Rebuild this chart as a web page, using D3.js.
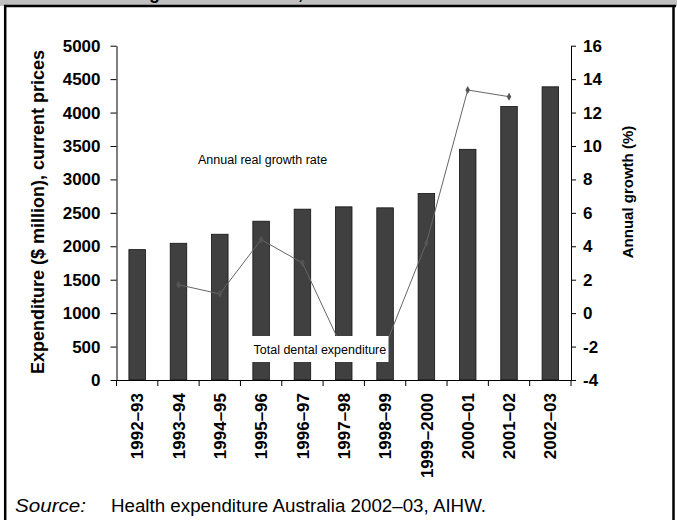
<!DOCTYPE html>
<html>
<head>
<meta charset="utf-8">
<script src="https://cdn.jsdelivr.net/npm/d3@7"></script>
<style>
  body { margin: 0; background: #fff; }
  svg { display: block; font-family: Arial, 'Liberation Sans', sans-serif; }
</style>
</head>
<body>
<div class="container"></div>
<script>
const years = ['1992–93', '1993–94', '1994–95', '1995–96', '1996–97', '1997–98',
  '1998–99', '1999–2000', '2000–01', '2001–02', '2002–03'];
const expenditure = [1950, 2045, 2180, 2375, 2555, 2590, 2575, 2790, 3450, 4090, 4385];
const growth = [null, 1.7, 1.15, 4.4, 3.0, -2.3, -2.0, 4.2, 13.35, 12.95, null];
const leftTicks = [0, 500, 1000, 1500, 2000, 2500, 3000, 3500, 4000, 4500, 5000];
const rightTicks = [-4, -2, 0, 2, 4, 6, 8, 10, 12, 14, 16];

let width = 677;
let height = 520;
let plot = { left: 116.5, right: 571, top: 45.7, bottom: 380 };

let svg = d3
  .select('.container')
  .append('svg')
  .attr('width', width)
  .attr('height', height);

// title strip, mostly cut off at the top
svg.append('rect').attr('x', 0).attr('y', 0).attr('width', width).attr('height', 6).attr('fill', '#c0c0c0');
let title = svg
  .append('text')
  .attr('y', -1)
  .style('font-size', '18px')
  .style('font-weight', 'bold')
  .text('Dental care: growth and costs, 1992–93 to 2002–03');
let gAt = title.node().getSubStringLength(0, 13);
title.attr('x', 149 - gAt);

// frame
svg.append('line').attr('x1', 4).attr('x2', 676).attr('y1', 6).attr('y2', 6).attr('stroke', '#000').attr('stroke-width', 2.5);
svg.append('line').attr('x1', 5.2).attr('x2', 5.2).attr('y1', 5).attr('y2', height).attr('stroke', '#000').attr('stroke-width', 2.5);
svg.append('line').attr('x1', 673.5).attr('x2', 673.5).attr('y1', 5).attr('y2', height).attr('stroke', '#000').attr('stroke-width', 2.5);

let x = d3
  .scaleBand()
  .domain(years)
  .range([plot.left, plot.right])
  .paddingInner(0.6)
  .paddingOuter(0.3);

let x0 = d3.scaleBand().domain(years).range([plot.left, plot.right]).padding(0);

let yLeft = d3.scaleLinear().domain([0, 5000]).range([plot.bottom, plot.top]);
let yRight = d3.scaleLinear().domain([-4, 16]).range([plot.bottom, plot.top]);

// left axis
svg
  .append('g')
  .attr('transform', 'translate(' + plot.left + ',0)')
  .call(d3.axisLeft(yLeft).tickValues(leftTicks).tickSize(6).tickSizeOuter(0).tickFormat((d) => String(d)))
  .call((g) => g.selectAll('text').attr('x', -16).style('font-size', '17px').style('font-weight', 'bold').style('fill', '#000'))
  .style('font-family', 'Arial, sans-serif');

// right axis
svg
  .append('g')
  .attr('transform', 'translate(' + plot.right + ',0)')
  .call(d3.axisRight(yRight).tickValues(rightTicks).tickSize(5).tickSizeOuter(0).tickFormat((d) => String(d)))
  .call((g) => g.selectAll('text').attr('x', 12).style('font-size', '17px').style('font-weight', 'bold').style('fill', '#000'))
  .style('font-family', 'Arial, sans-serif');

// bottom axis, labels rotated
svg
  .append('g')
  .attr('transform', 'translate(0,' + plot.bottom + ')')
  .call(d3.axisBottom(x0).tickSize(0).tickSizeOuter(0))
  .call((g) =>
    g
      .selectAll('text')
      .attr('transform', 'rotate(-90)')
      .attr('x', -13)
      .attr('y', 0)
      .attr('dy', '0.36em')
      .style('text-anchor', 'end')
      .style('font-size', '17px')
      .style('font-weight', 'bold')
      .style('fill', '#000')
  )
  .style('font-family', 'Arial, sans-serif');

// category boundary ticks
let bounds = years.map((d) => x0(d)).concat([x0.range()[1]]);
svg
  .append('g')
  .selectAll('line')
  .data(bounds)
  .enter()
  .append('line')
  .attr('x1', (d) => d)
  .attr('x2', (d) => d)
  .attr('y1', plot.bottom)
  .attr('y2', plot.bottom + 6)
  .attr('stroke', '#000');

// bars
svg
  .append('g')
  .selectAll('rect')
  .data(expenditure)
  .enter()
  .append('rect')
  .attr('x', (d, i) => x(years[i]))
  .attr('y', (d) => yLeft(d))
  .attr('width', x.bandwidth())
  .attr('height', (d) => plot.bottom - yLeft(d))
  .attr('fill', '#404040')
  .attr('stroke', '#111')
  .attr('stroke-width', 0.8);

// growth line
let pts = growth
  .map((v, i) => ({ v: v, cat: years[i] }))
  .filter((d) => d.v !== null);

let line = d3
  .line()
  .x((d) => x0(d.cat) + x0.bandwidth() / 2)
  .y((d) => yRight(d.v));

svg
  .append('path')
  .datum(pts)
  .attr('d', line)
  .attr('fill', 'none')
  .attr('stroke', '#666')
  .attr('stroke-width', 1);

svg
  .append('g')
  .selectAll('path')
  .data(pts)
  .enter()
  .append('path')
  .attr('d', d3.symbol().type(d3.symbolDiamond).size(18))
  .attr('transform', (d) => 'translate(' + (x0(d.cat) + x0.bandwidth() / 2) + ',' + yRight(d.v) + ')')
  .attr('fill', '#555');

// annotations
svg
  .append('text')
  .attr('x', 198)
  .attr('y', 164)
  .style('font-size', '12.5px')
  .text('Annual real growth rate');

svg.append('rect').attr('x', 251.5).attr('y', 336).attr('width', 137).attr('height', 26).attr('fill', '#fff');
svg
  .append('text')
  .attr('x', 253.5)
  .attr('y', 354)
  .style('font-size', '12.5px')
  .text('Total dental expenditure');

// axis titles
svg
  .append('text')
  .attr('transform', 'translate(44,212) rotate(-90)')
  .attr('text-anchor', 'middle')
  .style('font-size', '18px')
  .style('font-weight', 'bold')
  .text('Expenditure ($ million), current prices');

svg
  .append('text')
  .attr('transform', 'translate(633,192) rotate(-90)')
  .attr('text-anchor', 'middle')
  .style('font-size', '15px')
  .style('font-weight', 'bold')
  .text('Annual growth (%)');

// source note
svg
  .append('text')
  .attr('x', 15)
  .attr('y', 512)
  .attr('textLength', 71)
  .attr('lengthAdjust', 'spacingAndGlyphs')
  .style('font-size', '17.5px')
  .style('font-style', 'italic')
  .text('Source:');
svg
  .append('text')
  .attr('x', 111)
  .attr('y', 512)
  .attr('textLength', 375)
  .attr('lengthAdjust', 'spacingAndGlyphs')
  .style('font-size', '17.5px')
  .text('Health expenditure Australia 2002–03, AIHW.');
</script>
</body>
</html>
